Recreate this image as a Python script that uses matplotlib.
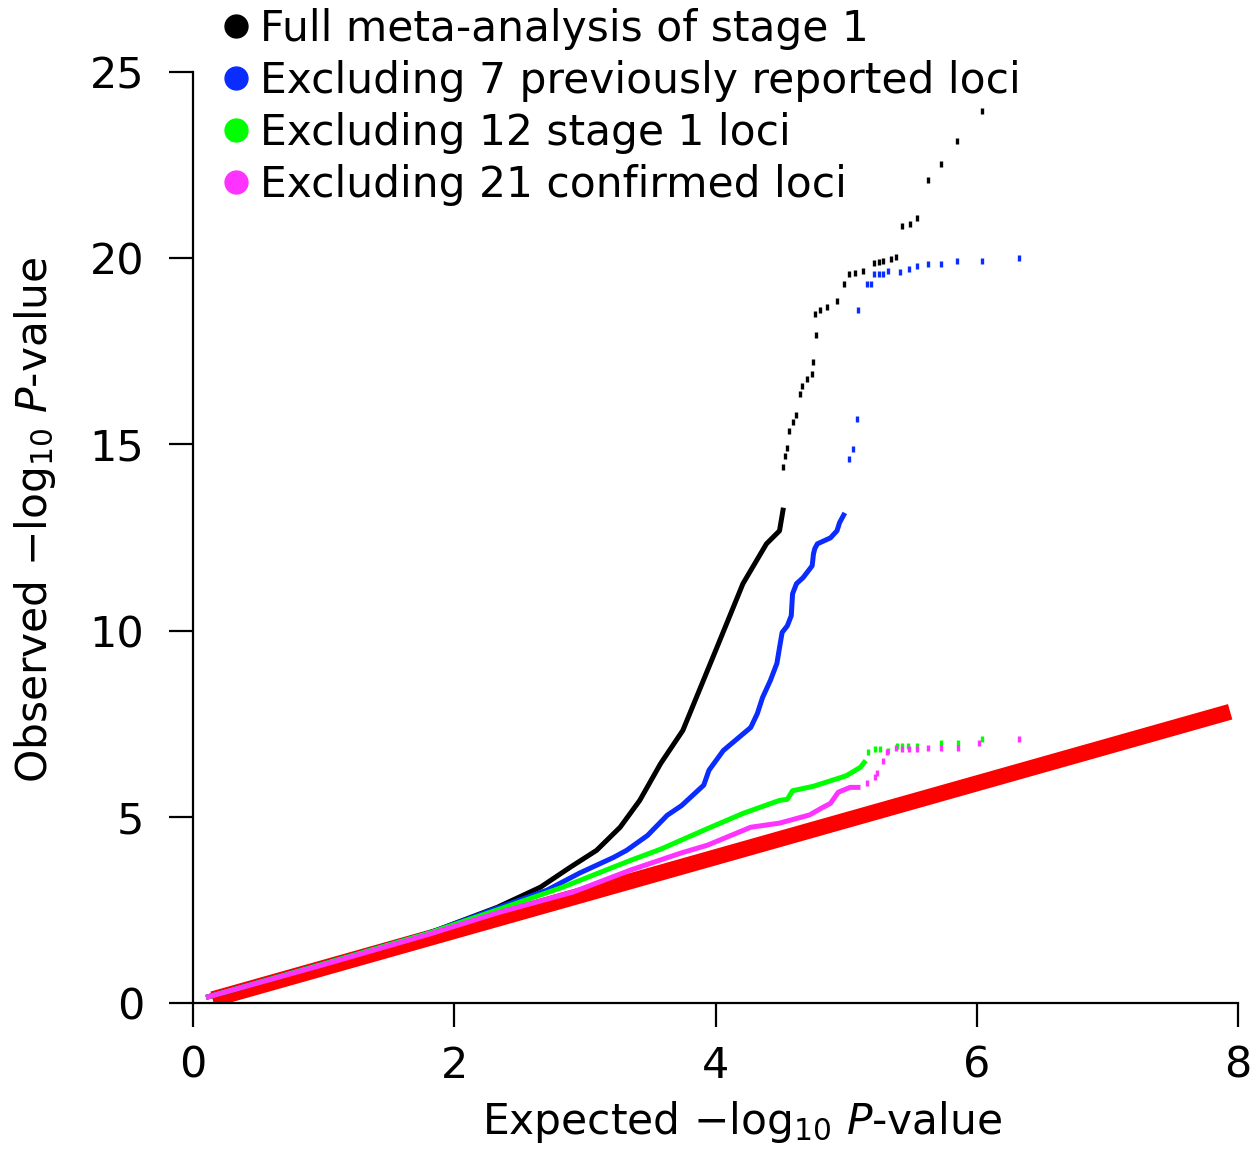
"""
QQ plot of stage 1 meta-analysis P-values, with and without the known loci
"""
import matplotlib
matplotlib.use("Agg")
import matplotlib.pyplot as plt
from matplotlib.lines import Line2D

plt.rcParams["font.family"] = ["DejaVu Sans"]
plt.rcParams["mathtext.fontset"] = "dejavusans"

# Expected vs observed -log10 P
# dense part of each curve (drawn as a thick line) + sparse tail (single points)
full_exp = [0.10, 1.00, 1.81, 2.33, 2.66, 2.89, 3.09, 3.27, 3.42, 3.58, 3.75,
            4.01, 4.21, 4.39, 4.49, 4.52]
full_obs = [0.15, 1.05, 1.88, 2.57, 3.11, 3.65, 4.10, 4.72, 5.44, 6.43, 7.32,
            9.54, 11.26, 12.33, 12.68, 13.30]
full_tail_exp = [4.52, 4.53, 4.55, 4.56, 4.59, 4.62, 4.65, 4.66, 4.70, 4.74,
                 4.75, 4.77, 4.76, 4.80, 4.85, 4.93, 4.98, 5.02, 5.07, 5.13,
                 5.21, 5.25, 5.28, 5.34, 5.38, 5.43, 5.49, 5.54, 5.63, 5.73,
                 5.85, 6.04]
full_tail_obs = [14.40, 14.70, 14.90, 15.36, 15.60, 15.80, 16.35, 16.57, 16.75,
                 16.90, 17.20, 17.93, 18.50, 18.60, 18.70, 18.85, 19.30, 19.57,
                 19.60, 19.65, 19.87, 19.90, 19.92, 19.98, 20.03, 20.86, 20.91,
                 21.07, 22.09, 22.52, 23.16, 23.94]

excl7_exp = [0.10, 1.00, 1.81, 2.33, 2.71, 2.96, 3.22, 3.32, 3.48, 3.63, 3.74,
             3.91, 3.95, 4.06, 4.27, 4.32, 4.36, 4.42, 4.47, 4.49, 4.51, 4.55,
             4.58, 4.59, 4.62, 4.67, 4.74, 4.75, 4.76, 4.78, 4.88, 4.93, 4.95,
             4.99]
excl7_obs = [0.15, 1.05, 1.88, 2.55, 3.03, 3.49, 3.91, 4.10, 4.50, 5.04, 5.30,
             5.85, 6.25, 6.78, 7.40, 7.77, 8.20, 8.66, 9.12, 9.54, 9.95, 10.13,
             10.40, 10.99, 11.26, 11.42, 11.74, 12.06, 12.20, 12.33, 12.49,
             12.68, 12.90, 13.16]
excl7_tail_exp = [5.02, 5.05, 5.08, 5.09, 5.16, 5.19, 5.21, 5.25, 5.28, 5.32,
                  5.41, 5.48, 5.54, 5.63, 5.73, 5.85, 6.04, 6.32]
excl7_tail_obs = [14.60, 14.88, 15.68, 18.60, 19.30, 19.30, 19.57, 19.57, 19.57,
                  19.65, 19.62, 19.70, 19.80, 19.84, 19.84, 19.92, 19.92, 20.00]

excl12_exp = [0.10, 1.00, 1.81, 2.33, 2.83, 3.35, 3.58, 3.95, 4.21, 4.49, 4.55,
              4.59, 4.75, 5.00, 5.11, 5.15]
excl12_obs = [0.15, 1.05, 1.88, 2.50, 3.11, 3.83, 4.13, 4.70, 5.09, 5.44, 5.47,
              5.70, 5.82, 6.10, 6.33, 6.51]
excl12_tail_exp = [5.17, 5.22, 5.26, 5.32, 5.39, 5.43, 5.47, 5.54, 5.73, 5.86,
                   6.04]
excl12_tail_obs = [6.73, 6.81, 6.81, 6.78, 6.89, 6.89, 6.89, 6.89, 6.97, 6.97,
                   7.10]

excl21_exp = [0.10, 1.00, 1.81, 2.33, 2.91, 3.35, 3.73, 3.94, 4.27, 4.49, 4.72,
              4.82, 4.88, 4.94, 5.03, 5.11]
excl21_obs = [0.15, 1.03, 1.85, 2.42, 2.98, 3.57, 4.02, 4.24, 4.72, 4.83, 5.05,
              5.25, 5.36, 5.66, 5.79, 5.79]
excl21_tail_exp = [5.16, 5.22, 5.24, 5.28, 5.31, 5.38, 5.43, 5.48, 5.54, 5.63,
                   5.73, 5.86, 6.02, 6.32]
excl21_tail_obs = [5.90, 6.06, 6.17, 6.51, 6.73, 6.84, 6.81, 6.81, 6.81, 6.86,
                   6.86, 6.86, 6.97, 7.10]

# null expectation line
null_exp = [0.15, 7.94]
null_obs = [0.10, 7.82]

labels = [
    "Full meta-analysis of stage 1",
    "Excluding 7 previously reported loci",
    "Excluding 12 stage 1 loci",
    "Excluding 21 confirmed loci",
]
colors = ["#000000", "#0a2cff", "#00ff00", "#ff33ff"]

series = [
    (full_exp, full_obs, full_tail_exp, full_tail_obs),
    (excl7_exp, excl7_obs, excl7_tail_exp, excl7_tail_obs),
    (excl12_exp, excl12_obs, excl12_tail_exp, excl12_tail_obs),
    (excl21_exp, excl21_obs, excl21_tail_exp, excl21_tail_obs),
]

fig = plt.figure(figsize=(12.56, 11.49), dpi=100)
ax = fig.add_axes([193 / 1256, 1 - 1003 / 1149, 1045 / 1256, 931 / 1149])

ax.plot(null_exp, null_obs, color="#ff0000", lw=11.5,
        solid_capstyle="butt", zorder=1)

for (x, y, tx, ty), c in zip(series, colors):
    ax.plot(x, y, color=c, lw=3.6, solid_capstyle="butt", zorder=2)
    ax.plot(tx, ty, ls="none", marker="|", ms=5, mew=2.4, color=c, zorder=2)

ax.set_xlim(0, 8)
ax.set_ylim(0, 25)
ax.set_xticks([0, 2, 4, 6, 8])
ax.set_yticks([0, 5, 10, 15, 20, 25])
for side in ["top", "right"]:
    ax.spines[side].set_visible(False)
for side in ["left", "bottom"]:
    ax.spines[side].set_linewidth(1.6)
ax.tick_params(axis="both", direction="out", length=17, width=1.6,
               labelsize=31, color="black")
ax.tick_params(axis="x", pad=13)
ax.tick_params(axis="y", pad=18)

ax.set_xlabel("Expected \u2212log$_{10}$ $P$-value", fontsize=30.5)
ax.set_ylabel("Observed \u2212log$_{10}$ $P$-value", fontsize=30.5)
ax.xaxis.set_label_coords((742 - 193) / 1045, -(1122 - 1003) / 931)
ax.yaxis.set_label_coords(-(193 - 35) / 1045, (1003 - 520) / 931)
ax.xaxis.label.set_va("center")
ax.yaxis.label.set_va("center")

handles = [
    Line2D([], [], ls="none", marker="o", ms=16.5, color=c, mec=c)
    for c in colors
]
fig.legend(handles, labels, loc="upper left",
           bbox_to_anchor=(223 / 1256, 1 - 8 / 1149),
           frameon=False, fontsize=30.5, handlelength=0.6,
           handletextpad=0.27, labelspacing=0.235, borderpad=0,
           borderaxespad=0)

fig.savefig("out.png", dpi=100)
